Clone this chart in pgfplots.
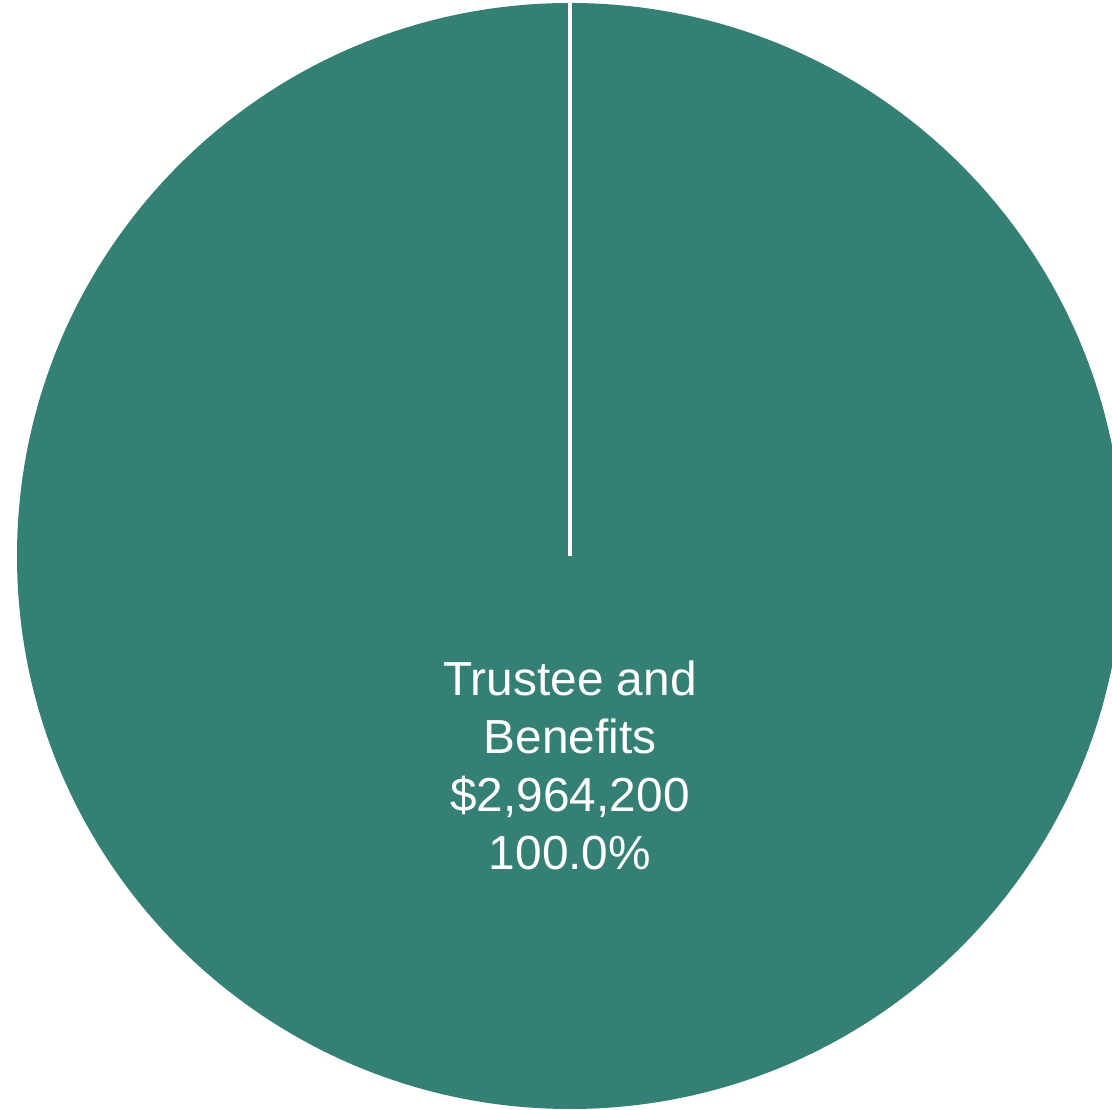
\documentclass[border=0pt]{standalone}
\usepackage{pgfplots}
\pgfplotsset{compat=1.18}
\usepackage{pgfplotstable}
\usepackage{fontspec}
\setmainfont{Liberation Sans}

\definecolor{pieteal}{RGB}{53,128,116}

% one slice: value (in thousands), share of total
\pgfplotstableread{
label value
Trustee 2964.2
}\piedata

\begin{document}
\begin{tikzpicture}
  \pgfplotstablegetelem{0}{value}\of\piedata
  \pgfmathsetmacro{\total}{\pgfplotsretval}
  \pgfmathsetmacro{\share}{\pgfplotsretval/\total*360}
  \begin{axis}[
      scale only axis,
      width=11.12cm, height=11.09cm,
      xmin=0, xmax=1112, ymin=0, ymax=1109,
      hide axis,
      clip=true,
    ]
    \path (rel axis cs:0,0) rectangle (rel axis cs:1,1);
    % pie slice (100%) starting at 12 o'clock, clockwise
    \fill[pieteal] (axis cs:570,553) -- ++(90:5.53cm)
      arc[start angle=90, delta angle=-\share, radius=5.53cm] -- cycle;
    \draw[white, line width=1.4pt] (axis cs:570,553) -- ++(90:5.53cm);
    \node[white, align=center, font=\fontsize{13.6}{16.5}\selectfont]
      at (axis cs:570,344) {Trustee and\\Benefits\\\$2,964,200\\100.0\%};
  \end{axis}
\end{tikzpicture}
\end{document}
